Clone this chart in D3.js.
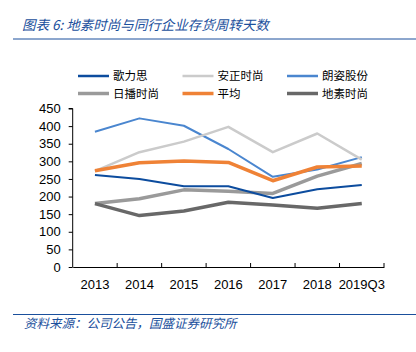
<!DOCTYPE html>
<html><head><meta charset="utf-8">
<script src="https://cdn.jsdelivr.net/npm/d3@7"></script>
<style>body{margin:0;background:#fff;}svg{display:block;}</style>
</head><body>
<svg id="c" width="416" height="352"></svg>
<script>
const categories = ["2013","2014","2015","2016","2017","2018","2019Q3"];
const seriesNames = ["歌力思","安正时尚","朗姿股份","日播时尚","平均","地素时尚"];
const geli = [261,250,229,229,196,221,233];
const anzheng = [272,326,356,398,326,379,305];
const langzi = [384,422,401,335,256,277,312];
const ribo = [180,194,219,215,209,258,294];
const avg = [273,296,301,297,245,284,287];
const disu = [180,146,159,184,176,167,180];
const yTicks = [0,50,100,150,200,250,300,350,400,450];

const series = [
  {name:"朗姿股份", values:langzi, color:"#4a86cf", w:2},
  {name:"安正时尚", values:anzheng, color:"#cbcbcb", w:2.5},
  {name:"日播时尚", values:ribo, color:"#9a9a9a", w:3.5},
  {name:"地素时尚", values:disu, color:"#686868", w:3.5},
  {name:"歌力思", values:geli, color:"#0c4c9e", w:2},
  {name:"平均", values:avg, color:"#ef8236", w:3.5}
];
const legendOrder = seriesNames;

const svg = d3.select("#c");
const blue = "#1a4f9c";
// title
svg.append("text").attr("x",22).attr("y",30).attr("fill",blue)
  .attr("font-family","Noto Sans CJK SC").attr("font-style","italic").attr("font-size",13.5)
  .text("图表 6:  地素时尚与同行企业存货周转天数");
svg.append("line").attr("x1",13).attr("x2",416).attr("y1",39).attr("y2",39).attr("stroke",blue).attr("stroke-width",1);
svg.append("line").attr("x1",13).attr("x2",416).attr("y1",314.5).attr("y2",314.5).attr("stroke",blue).attr("stroke-width",1);
svg.append("text").attr("x",24).attr("y",328).attr("fill",blue)
  .attr("font-family","Noto Sans CJK SC").attr("font-style","italic").attr("font-size",12.5)
  .text("资料来源：公司公告，国盛证券研究所");

const x = d3.scaleBand().domain(categories).range([72.7,384]);
const y = d3.scaleLinear().domain([0,450]).range([267,108.5]);

const ya = svg.append("g").attr("transform","translate(72.7,0)")
  .call(d3.axisLeft(y).tickValues(yTicks).tickSize(4).tickPadding(8));
ya.select(".domain").attr("stroke","#000").attr("d","M-4,108.5H0V267");
ya.selectAll(".tick line").attr("stroke","#000");
ya.selectAll("text").attr("font-family","Liberation Sans").attr("font-size",13).attr("fill","#000");

const xa = svg.append("g").attr("transform","translate(0,267)")
  .call(d3.axisBottom(x).tickSize(0).tickPadding(13));
xa.select(".domain").attr("stroke","#000");
xa.selectAll("text").attr("font-family","Liberation Sans").attr("font-size",13).attr("fill","#000");
svg.append("g").selectAll("line").data(categories).join("line")
  .attr("x1",d=>x(d)+x.bandwidth()).attr("x2",d=>x(d)+x.bandwidth())
  .attr("y1",267).attr("y2",263).attr("stroke","#000");

const line = d3.line().x((d,i)=>x(categories[i])+x.bandwidth()/2).y(d=>y(d));
svg.append("g").selectAll("path").data(series).join("path")
  .attr("d",d=>line(d.values)).attr("fill","none")
  .attr("stroke",d=>d.color).attr("stroke-width",d=>d.w).attr("stroke-linejoin","round");

// legend
const lg = svg.append("g");
const byName = Object.fromEntries(series.map(s=>[s.name,s]));
legendOrder.forEach((n,i)=>{
  const s = byName[n];
  const col = i%3, row = Math.floor(i/3);
  const lx = 78 + col*104.5, ly = 76 + row*17.5;
  lg.append("line").attr("x1",lx).attr("x2",lx+31).attr("y1",ly).attr("y2",ly)
    .attr("stroke",s.color).attr("stroke-width",s.w<3?2.5:3.5);
  lg.append("text").attr("x",lx+35).attr("y",ly+4).attr("font-family","Noto Sans CJK SC")
    .attr("font-size",11.5).attr("fill","#000").text(n);
});
</script>
</body></html>
